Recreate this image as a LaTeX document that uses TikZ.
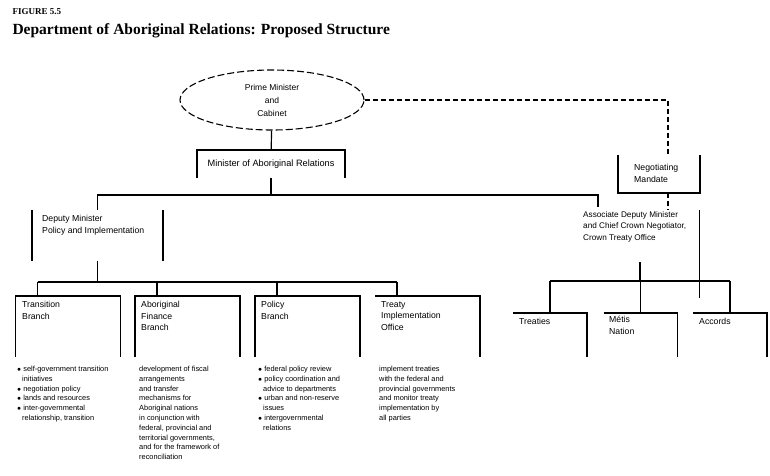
\documentclass[tikz,border=0pt]{standalone}
\usepackage{fontspec}
\setmainfont{Liberation Sans}
\newfontfamily\headfont{Liberation Serif}
\usetikzlibrary{positioning,calc,shapes.geometric}
\tikzset{
  wire/.style={draw=black,line width=1.2pt},
  slot/.style={rectangle,inner sep=0pt,outer sep=0pt},
  lbl/.style={font=\fontsize{8.7}{11.5}\selectfont,align=left,inner sep=0pt,anchor=north west},
  note/.style={font=\fontsize{7.4}{9.8}\selectfont,align=left,inner sep=0pt,anchor=north west},
  cab/.style={ellipse,draw,line width=1.1pt,dash pattern=on 7pt off 3pt,minimum width=184pt,
    minimum height=60pt,inner sep=0pt,align=center,font=\fontsize{8.5}{13}\selectfont},
}
\begin{document}
\begin{tikzpicture}[x=1pt,y=-1pt]
\useasboundingbox (0,0) rectangle (770,475);
% heading
\node[anchor=west,font=\headfont\bfseries\fontsize{9}{9}\selectfont] (fig) at (9,12) {FIGURE 5.5};
\node[anchor=west,font=\headfont\bfseries\fontsize{15.5}{16}\selectfont] (ttl) at (9,31) {Department of Aboriginal Relations: Proposed Structure};

% top of the chart
\node[cab] (pm) at (272,100) {Prime Minister\\and\\Cabinet};
\node[slot,minimum width=148pt,minimum height=28pt,font=\fontsize{9.2}{10}\selectfont] (min) at (271,164) {Minister of Aboriginal Relations};
\draw[wire] (min.south west) -- (min.north west) -- (min.north east) -- (min.south east);

\node[slot,minimum width=131pt,minimum height=51pt] (dep) at (97.5,235.5) {};
\draw[wire] (dep.north west) -- (dep.south west);
\draw[wire] (dep.north east) -- (dep.south east);
\node[lbl] (dept) at (42,215) {Deputy Minister\\Policy and Implementation};

\node[slot,minimum width=82pt,minimum height=38pt] (neg) at (659,174) {};
\draw[wire] (neg.north west) -- (neg.south west) -- (neg.south east) -- (neg.north east);
\node[lbl] (negt) at (634,164) {Negotiating\\Mandate};

\node[slot,minimum width=119pt,minimum height=88pt] (asc) at (640,254) {};
\draw[wire] (asc.north east) -- (asc.south east);
\node[lbl,font=\fontsize{8.2}{11.5}\selectfont] (asct) at (583,211) {Associate Deputy Minister\\and Chief Crown Negotiator,\\Crown Treaty Office};

% branches
\foreach \n/\x in {tb/68,fb/187.5,pb/307.5,ib/427.5}
  \node[slot,minimum width=105pt,minimum height=61pt] (\n) at (\x,326.5) {};
\foreach \n in {tb,fb,pb}
  \draw[wire] (\n.south west) -- (\n.north west) -- (\n.north east) -- (\n.south east);
\draw[wire] (ib.north west) -- (ib.north east) -- (ib.south east);
\node[lbl] (tbt) at (22,301) {Transition\\Branch};
\node[lbl] (fbt) at (141,301) {Aboriginal\\Finance\\Branch};
\node[lbl] (pbt) at (261,301) {Policy\\Branch};
\node[lbl] (ibt) at (381,301) {Treaty\\Implementation\\Office};

\node[note] (tbn) at (17,366) {$\bullet$ self-government transition\\\hspace*{5pt}initiatives\\$\bullet$ negotiation policy\\$\bullet$ lands and resources\\$\bullet$ inter-governmental\\\hspace*{5pt}relationship, transition};
\node[note] (fbn) at (139,366) {development of fiscal\\arrangements\\and transfer\\mechanisms for\\Aboriginal nations\\in conjunction with\\federal, provincial and\\territorial governments,\\and for the framework of\\reconciliation};
\node[note] (pbn) at (258,366) {$\bullet$ federal policy review\\$\bullet$ policy coordination and\\\hspace*{5pt}advice to departments\\$\bullet$ urban and non-reserve\\\hspace*{5pt}issues\\$\bullet$ intergovernmental\\\hspace*{5pt}relations};
\node[note] (ibn) at (379,366) {implement treaties\\with the federal and\\provincial governments\\and monitor treaty\\implementation by\\all parties};

% crown treaty office units
\foreach \n/\x in {tr/550,mn/640.5,ac/730}
  \node[slot,minimum width=74pt,minimum height=44pt] (\n) at (\x,335) {};
\foreach \n in {tr,mn,ac}
  \draw[wire] (\n.north west) -- (\n.north east) -- (\n.south east);
\node[lbl] (trt) at (519,318) {Treaties};
\node[lbl] (mnt) at (609,316) {Métis\\Nation};
\node[lbl] (act) at (699,318) {Accords};

% connectors
\coordinate (b1) at (271,195);
\coordinate (ascin) at (598,207);
\coordinate (dk) at (668,100);
\coordinate (b2) at (97.5,282);
\coordinate (ascout) at (640,262);
\coordinate (b3) at (640,281);
\draw[wire] (pm) -- (min);
\draw[wire] (min.south) -- (b1);
\draw[wire] (dep.north) -- (dep.north |- b1) -- (ascin |- b1) -- (ascin);
\draw[wire,dash pattern=on 5pt off 3pt] (pm.east) -- (dk) -- (dk |- neg.north);
\draw[wire,dash pattern=on 5pt off 3pt] (dk |- neg.south) -- (dk |- asc.north);
\draw[wire] (dep.south) -- (b2);
\foreach \n in {tb,fb,pb,ib} {
  \coordinate (\n d) at ([xshift=22pt]\n.north west);
  \draw[wire] (\n d) -- (\n d |- b2);
}
\draw[wire] (tbd |- b2) -- (ibd |- b2);
\draw[wire] (ascout) -- (b3);
\foreach \n in {tr,mn,ac}
  \draw[wire] (\n.north) -- (\n.north |- b3);
\draw[wire] (tr.north |- b3) -- (ac.north |- b3);
\end{tikzpicture}
\end{document}
